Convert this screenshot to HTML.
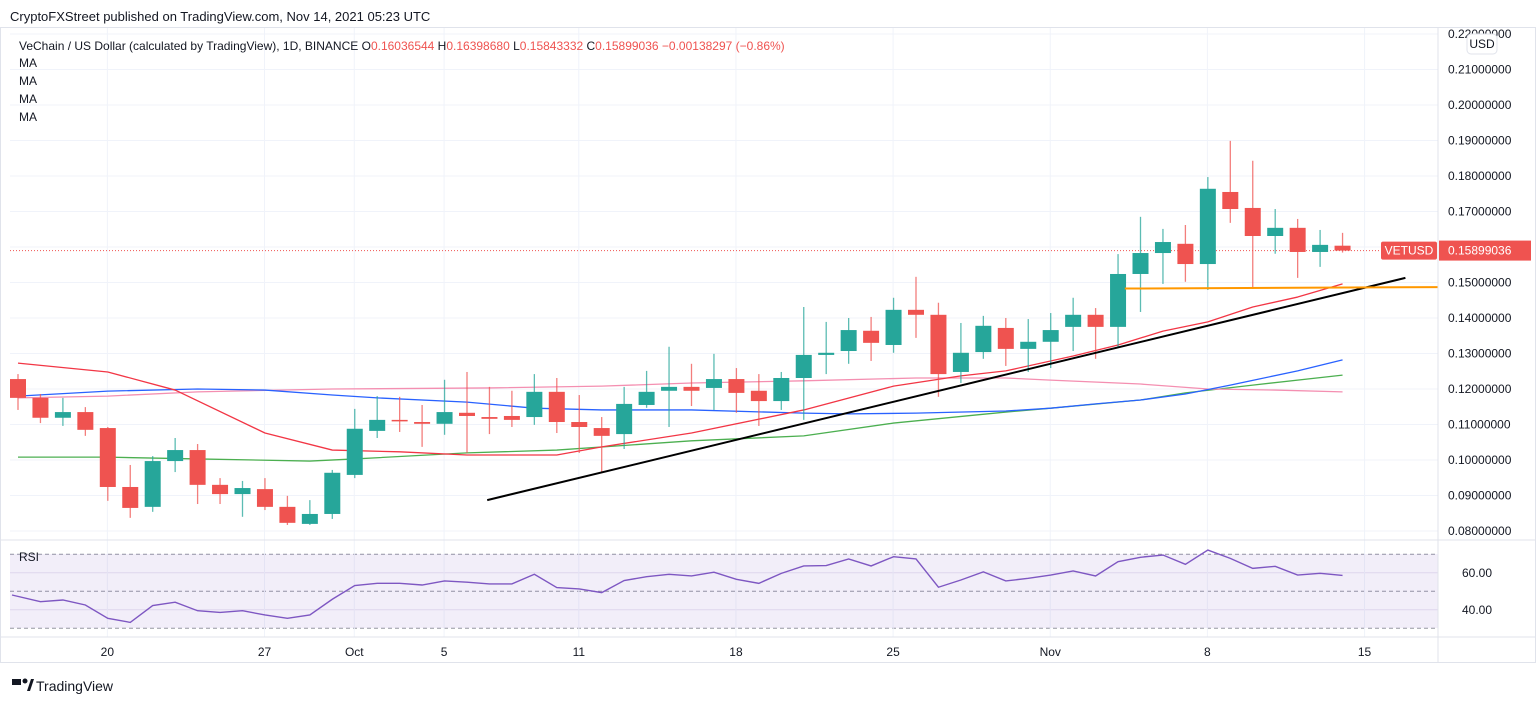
<!DOCTYPE html>
<html><head><meta charset="utf-8"><style>
body{margin:0;background:#fff;width:1536px;height:703px;overflow:hidden;font-family:"Liberation Sans",sans-serif}
svg{display:block}
text{font-family:"Liberation Sans",sans-serif}
</style></head><body>
<svg id="chart" width="1536" height="703" viewBox="0 0 1536 703" xmlns="http://www.w3.org/2000/svg">
<text x="10" y="21" font-size="13" fill="#131722">CryptoFXStreet published on TradingView.com, Nov 14, 2021 05:23 UTC</text>
<rect x="0.5" y="27.5" width="1535" height="635" fill="none" stroke="#e0e3eb"/>
<g id="grid"></g>
<rect x="10" y="554" width="1428" height="74" fill="#7e57c2" fill-opacity="0.1"/>
<g id="mas"></g>
<g id="candles"></g>
<g id="draw"></g>
<g id="rsi"></g>
<g id="axes"></g>
<g id="tags"></g>
<g font-size="12" fill="#131722">
<text x="19" y="50">VeChain / US Dollar (calculated by TradingView), 1D, BINANCE <tspan fill="#131722">O</tspan><tspan fill="#ef5350">0.16036544</tspan> H<tspan fill="#ef5350">0.16398680</tspan> L<tspan fill="#ef5350">0.15843332</tspan> C<tspan fill="#ef5350">0.15899036 −0.00138297 (−0.86%)</tspan></text>
<text x="19" y="67">MA</text>
<text x="19" y="85">MA</text>
<text x="19" y="103">MA</text>
<text x="19" y="121">MA</text>
<text x="19" y="561">RSI</text>
</g>
<g>
<rect x="12" y="679" width="9" height="6" fill="#131722"/><circle cx="25" cy="681" r="2.5" fill="#131722"/><path d="M27 691 L31 679 L34 679 L30 691Z" fill="#131722"/>
<text x="36" y="691" font-size="14" fill="#131722">TradingView</text>
</g>
</svg>
<script>
const opens=[0.1228,0.1175,0.1119,0.1135,0.1090,0.0924,0.0868,0.0997,0.1028,0.0930,0.0904,0.0918,0.0868,0.0820,0.0848,0.0958,0.1082,0.1113,0.1107,0.1102,0.1133,0.1121,0.1124,0.1121,0.1192,0.1107,0.1090,0.1073,0.1155,0.1195,0.1206,0.1203,0.1228,0.1195,0.1166,0.1231,0.1296,0.1307,0.1364,0.1324,0.1423,0.1409,0.1248,0.1304,0.1372,0.1313,0.1333,0.1375,0.1409,0.1375,0.1524,0.1583,0.1609,0.1552,0.1755,0.1710,0.1631,0.1654,0.1586,0.16036544];
const highs=[0.1242,0.1186,0.1175,0.1149,0.1093,0.0986,0.1011,0.1062,0.1045,0.0949,0.0941,0.0949,0.0899,0.0887,0.0972,0.1144,0.1180,0.1178,0.1155,0.1226,0.1248,0.1206,0.1195,0.1242,0.1231,0.1183,0.1121,0.1206,0.1251,0.1319,0.1271,0.1299,0.1259,0.1242,0.1248,0.1431,0.1389,0.1400,0.1403,0.1457,0.1516,0.1443,0.1386,0.1406,0.1400,0.1397,0.1414,0.1457,0.1428,0.1580,0.1685,0.1651,0.1662,0.1797,0.1899,0.1843,0.1707,0.1679,0.1648,0.16398680];
const lows=[0.1141,0.1104,0.1096,0.1068,0.0885,0.0837,0.0854,0.0966,0.0876,0.0876,0.0840,0.0859,0.0817,0.0817,0.0834,0.0949,0.1062,0.1079,0.1037,0.1071,0.1020,0.1073,0.1093,0.1099,0.1076,0.1020,0.0964,0.1031,0.1147,0.1093,0.1152,0.1141,0.1133,0.1096,0.1141,0.1113,0.1242,0.1271,0.1279,0.1302,0.1344,0.1178,0.1217,0.1285,0.1265,0.1248,0.1259,0.1307,0.1285,0.1319,0.1417,0.1496,0.1502,0.1479,0.1668,0.1482,0.1581,0.1513,0.1544,0.15843332];
const closes=[0.1175,0.1119,0.1135,0.1085,0.0924,0.0865,0.0997,0.1028,0.0930,0.0904,0.0921,0.0868,0.0823,0.0848,0.0964,0.1088,0.1113,0.1110,0.1102,0.1135,0.1124,0.1116,0.1113,0.1192,0.1107,0.1093,0.1068,0.1158,0.1192,0.1206,0.1195,0.1228,0.1189,0.1166,0.1231,0.1296,0.1302,0.1366,0.1330,0.1423,0.1409,0.1242,0.1302,0.1378,0.1313,0.1333,0.1366,0.1409,0.1375,0.1524,0.1583,0.1614,0.1552,0.1764,0.1707,0.1631,0.1654,0.1586,0.1606,0.15899036];
const rsiValues=[48.0,44.4,45.3,42.6,35.4,33.2,42.3,44.1,39.5,38.6,39.5,37.2,35.4,37.2,45.7,53.1,54.3,54.3,53.4,55.6,54.9,54.0,54.0,59.2,52.0,51.3,49.3,55.8,57.9,59.2,58.3,60.3,56.5,54.3,59.7,63.7,63.9,67.5,63.7,68.7,67.5,52.2,56.1,60.5,55.6,57.0,58.8,61.0,58.3,66.0,68.4,69.6,64.6,72.3,67.8,62.4,63.5,58.8,59.7,58.6];
const ma20Idx=[0,4,7,11,14,17,20,24,26,30,35,39,42,44,47,49,51,53,55,57,59];
const ma20Val=[0.1273,0.1248,0.1197,0.1076,0.1028,0.1023,0.1014,0.1014,0.1037,0.1076,0.1141,0.1208,0.1237,0.1251,0.1293,0.1324,0.1363,0.1389,0.1431,0.1459,0.1496];
const ma50Idx=[0,4,8,11,14,16,20,23,26,30,35,37,40,44,46,48,50,52,54,57,59];
const ma50Val=[0.1180,0.1194,0.1200,0.1197,0.1183,0.1175,0.1163,0.1146,0.1141,0.1141,0.1132,0.1130,0.1132,0.1138,0.1146,0.1158,0.1169,0.1186,0.1211,0.1251,0.1282];
const ma200Idx=[0,4,8,14,21,26,30,35,40,44,46,50,53,56,59];
const ma200Val=[0.1175,0.1180,0.1192,0.1200,0.1203,0.1208,0.1217,0.1223,0.1231,0.1231,0.1225,0.1214,0.1200,0.1197,0.1192];
const ma100Idx=[0,4,8,13,15,20,24,30,35,39,44,46,50,52,55,59];
const ma100Val=[0.1008,0.1008,0.1003,0.0997,0.1003,0.1020,0.1028,0.1054,0.1068,0.1104,0.1135,0.1146,0.1169,0.1189,0.1211,0.1239];
const priceTicks=[0.08,0.09,0.10,0.11,0.12,0.13,0.14,0.15,0.16,0.17,0.18,0.19,0.20,0.21,0.22];
const timeTickIdx=[4,11,15,19,25,32,39,46,53,60];
const timeTickLabels=["20","27","Oct","5","11","18","25","Nov","8","15"];
const trendIdx=[20.9,61.8];const trendVal=[0.0887,0.1513];
const supportIdx=[49.3,63.3];const supportVal=[0.1483,0.1487];

const NS="http://www.w3.org/2000/svg";
const X=i=>18+22.45*i;
const Y=p=>531-(p-0.08)*3550;
const RY=v=>554.3+(70-v)*1.85;
function mk(tag,attrs,parent){const e=document.createElementNS(NS,tag);for(const k in attrs)e.setAttribute(k,attrs[k]);parent.appendChild(e);return e;}
const grid=document.getElementById('grid'),axes=document.getElementById('axes');
priceTicks.forEach((p,k)=>{
  const l=mk('line',{x1:10,x2:1438,y1:Y(p),y2:Y(p),stroke:'#f0f3fa'},grid);
  
  
  const t=mk('text',{x:1448,y:Y(p)+4,'font-size':12,fill:'#131722'},axes);
  t.textContent=p.toFixed(8);
  
  
});
[60,40].forEach(v=>{
  const l=mk('line',{x1:10,x2:1438,y1:RY(v),y2:RY(v),stroke:'#e9e6f2'},grid);
  
  
  const t=mk('text',{x:1462,y:RY(v)+4,'font-size':12,fill:'#131722'},axes);
  t.textContent=v.toFixed(2);
  
  
});
[70,50,30].forEach(v=>{
  const l=mk('line',{x1:10,x2:1438,y1:RY(v),y2:RY(v),stroke:'#9598a1','stroke-dasharray':'4 3'},grid);
  
  
});
timeTickIdx.forEach((d,k)=>{
  const x=X(d-0.02);
  const l=mk('line',{x1:x,x2:x,y1:28,y2:637,stroke:'#f0f3fa'},grid);
  
  
  const t=mk('text',{x:x,y:656,'font-size':12,fill:'#131722','text-anchor':'middle'},axes);
  t.textContent=timeTickLabels[k];
  
  
});
[[1438,28,1438,663],[0,540,1536,540],[0,637,1536,637]].forEach(a=>{
  const l=mk('line',{x1:a[0],y1:a[1],x2:a[2],y2:a[3],stroke:'#e0e3eb'},axes);
  
  
});
const usd=mk('rect',{x:1467,y:34,width:30,height:20,rx:4,fill:'#fff',stroke:'#e0e3eb'},axes);


const usdT=mk('text',{x:1482,y:48,'font-size':12,fill:'#131722','text-anchor':'middle'},axes);
usdT.textContent='USD';



const mas=document.getElementById('mas');
[[ma100Idx,ma100Val,'#4caf50','ma-green'],[ma200Idx,ma200Val,'#f48fb1','ma-pink'],[ma50Idx,ma50Val,'#2962ff','ma-blue'],[ma20Idx,ma20Val,'#f23645','ma-red']].forEach(m=>{
  const pts=m[0].map((i,k)=>X(i)+','+Y(m[1][k])).join(' ');
  const pl=mk('polyline',{points:pts,fill:'none',stroke:m[2],'stroke-width':1.3,'stroke-linejoin':'round'},mas);
  
  
});
const last=closes[closes.length-1];
const pl=mk('line',{x1:10,x2:1438,y1:Y(last),y2:Y(last),stroke:'#ef5350','stroke-dasharray':'1 2'},mas);


const cg=document.getElementById('candles');
opens.forEach((o,i)=>{
  const c=closes[i],up=c>=o,col=up?'#26a69a':'#ef5350',x=X(i);
  const w=mk('line',{x1:x,x2:x,y1:Y(highs[i]),y2:Y(lows[i]),stroke:col,'stroke-opacity':0.75,'stroke-width':1.3},cg);
  
  
  const top=Y(Math.max(o,c)),h=Math.max(1.5,Math.abs(Y(o)-Y(c)));
  const b=mk('rect',{x:x-8,y:top,width:16,height:h,fill:col},cg);
  
  
});
const dg=document.getElementById('draw');
const tl=mk('line',{x1:X(trendIdx[0]),y1:Y(trendVal[0]),x2:X(trendIdx[1]),y2:Y(trendVal[1]),stroke:'#000','stroke-width':2},dg);


const sl=mk('line',{x1:X(supportIdx[0]),y1:Y(supportVal[0]),x2:1438,y2:Y(supportVal[1]),stroke:'#ff9800','stroke-width':2},dg);


const tg=document.getElementById('tags');
const vb=mk('rect',{x:1381,y:Y(last)-9,width:56,height:18,rx:2,fill:'#ef5350'},tg);


const vt=mk('text',{x:1409,y:Y(last)+4,'font-size':12,fill:'#fff','text-anchor':'middle'},tg);
vt.textContent='VETUSD';


const pb=mk('rect',{x:1439,y:Y(last)-10,width:92,height:20,fill:'#ef5350'},tg);


const pt=mk('text',{x:1448,y:Y(last)+4,'font-size':12,fill:'#fff'},tg);
pt.textContent=last.toFixed(8);


const rg=document.getElementById('rsi');
const rpts=rsiValues.map((v,i)=>(i===0?12:X(i))+','+RY(v)).join(' ');
const rl=mk('polyline',{points:rpts,fill:'none',stroke:'#7e57c2','stroke-width':1.4},rg);


</script>
</body></html>
